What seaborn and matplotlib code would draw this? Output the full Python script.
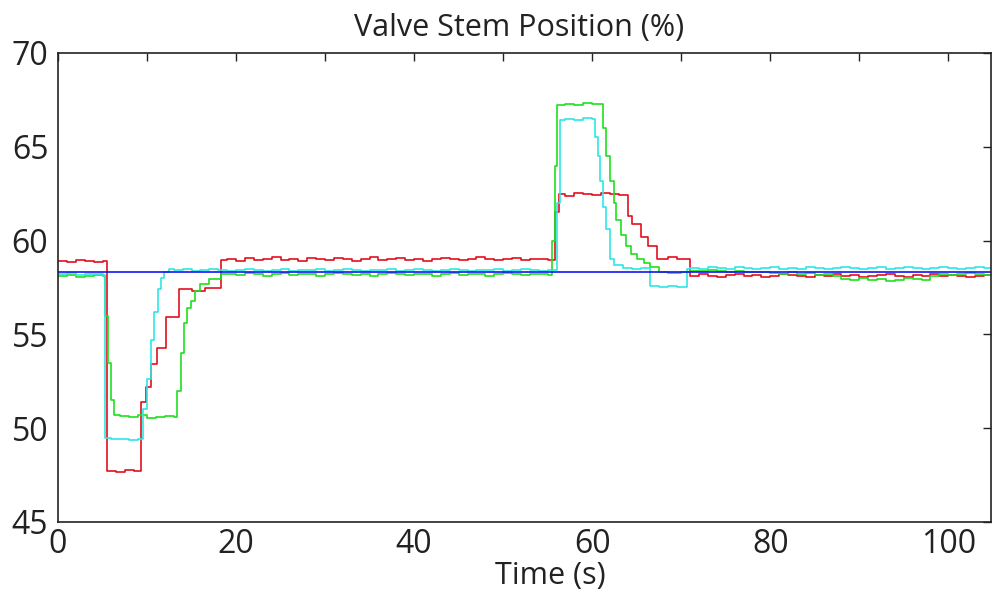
import matplotlib
matplotlib.use("Agg")
import matplotlib.pyplot as plt
import seaborn as sns
import pandas as pd
import numpy as np

# ---------------- data ----------------
red_t = [0, 1, 2, 3, 4, 5, 5.5, 6.5, 7.5, 8.5, 9.3, 9.9, 10.5, 11.1, 12.1, 13.6, 15, 16.5, 18.3,
         19, 20, 21, 22, 23, 24, 25, 26, 27, 28, 29, 30, 31, 32, 33, 34, 35, 36, 37, 38, 39, 40,
         41, 42, 43, 44, 45, 46, 47, 48, 49, 50, 51, 52, 53, 54, 55,
         55.8, 56.3, 57, 58, 59, 60, 61, 62, 63, 64, 64.5, 65.5, 66.3, 67.3, 68.5, 69.5, 71,
         72, 73, 74, 75, 76, 77, 78, 79, 80, 81, 82, 83, 84, 85, 86, 87, 88, 89, 90, 91, 92,
         93, 94, 95, 96, 97, 98, 99, 100, 101, 102, 103, 104, 105, 106]
red_v = [58.9, 58.85, 58.95, 58.9, 58.85, 58.9, 47.7, 47.65, 47.75, 47.7, 51.4, 52.2, 53.4, 54.3, 55.9, 57.4, 57.3, 57.45, 58.95,
         59.0, 58.9, 59.05, 58.95, 59.0, 59.1, 58.95, 59.0, 58.9, 59.05, 59.0, 58.95, 59.05, 59.0, 58.9, 59.0, 59.1, 58.95,
         59.0, 59.05, 58.95, 59.0, 58.9, 59.0, 59.05, 59.0, 58.95, 59.0, 59.1, 59.0, 58.95, 59.0, 59.05, 58.95, 59.0, 59.0, 58.95,
         61.5, 62.5, 62.4, 62.55, 62.5, 62.45, 62.55, 62.5, 62.45, 61.3, 60.9, 60.2, 59.7, 59.0, 59.1, 59.0, 58.1,
         58.2, 58.1, 58.05, 58.15, 58.2, 58.1, 58.15, 58.05, 58.1, 58.2, 58.15, 58.1, 58.05, 58.15, 58.1, 58.2, 58.1,
         58.15, 58.05, 58.1, 58.15, 58.2, 58.1, 58.05, 58.15, 58.1, 58.2, 58.1, 58.15, 58.1, 58.05, 58.1, 58.15, 58.1, 58.1]

green_t = [0, 1, 2, 3, 4, 5, 5.3, 5.6, 5.9, 6.3, 7, 8, 9, 10, 11, 12, 13, 13.4, 13.8, 14.1, 14.5, 14.9,
           15.4, 16, 17, 18.3,
           19, 20, 21, 22, 23, 24, 25, 26, 27, 28, 29, 30, 31, 32, 33, 34, 35, 36, 37, 38, 39, 40,
           41, 42, 43, 44, 45, 46, 47, 48, 49, 50, 51, 52, 53, 54, 55,
           55.5, 55.8, 56.1, 57, 58, 59, 60, 61.2, 61.6, 62, 62.4, 62.7, 63.2, 63.8, 64.4, 65, 65.8,
           66.5, 67.5, 68.5, 70, 71,
           72, 73, 74, 75, 76, 77, 78, 79, 80, 81, 82, 83, 84, 85, 86, 87, 88, 89, 90, 91, 92,
           93, 94, 95, 96, 97, 98, 99, 100, 101, 102, 103, 104, 105, 106]
green_v = [58.1, 58.15, 58.05, 58.1, 58.15, 58.1, 56.0, 53.5, 51.5, 50.7, 50.65, 50.6, 50.7, 50.55, 50.6, 50.65, 50.6,
           52.0, 54.0, 55.6, 56.4, 56.8, 57.3, 57.7, 57.95, 58.2,
           58.2, 58.15, 58.25, 58.2, 58.1, 58.2, 58.25, 58.15, 58.2, 58.2, 58.1, 58.2, 58.25, 58.2, 58.15, 58.2, 58.1,
           58.2, 58.25, 58.2, 58.15, 58.2, 58.2, 58.1, 58.2, 58.25, 58.15, 58.2, 58.2, 58.1, 58.2, 58.25, 58.2, 58.15,
           58.2, 58.2, 58.15,
           60.0, 64.0, 67.2, 67.3, 67.25, 67.35, 67.3, 66.0, 64.5, 63.2, 62.0, 61.1, 60.3, 59.7, 59.3, 59.0, 58.8,
           58.6, 58.3, 58.25, 58.3, 58.4,
           58.4, 58.45, 58.4, 58.35, 58.4, 58.3, 58.35, 58.3, 58.25, 58.2, 58.3, 58.2, 58.25, 58.15, 58.2, 58.1, 57.95,
           57.9, 58.0, 57.9, 57.95, 57.85, 57.9, 58.0, 57.95, 57.9, 58.1, 58.2, 58.15, 58.2, 58.25, 58.2, 58.15, 58.2, 58.2]

cyan_t = [0, 1, 2, 3, 4, 5, 5.3, 6, 7, 8, 9, 9.5, 10, 10.4, 10.8, 11.2, 11.6, 11.9, 12.5,
          13, 14, 15, 16, 17, 18, 19, 20, 21, 22, 23, 24, 25, 26, 27, 28, 29, 30, 31, 32, 33, 34, 35,
          36, 37, 38, 39, 40, 41, 42, 43, 44, 45, 46, 47, 48, 49, 50, 51, 52, 53, 54, 55,
          56.0, 56.4, 57, 58, 59, 60, 60.3, 60.6, 60.9, 61.2, 61.5, 62, 62.5, 63.5, 64.5, 65.5,
          66.5, 67.5, 68.5, 69.5, 70.6,
          71, 72, 73, 74, 75, 76, 77, 78, 79, 80, 81, 82, 83, 84, 85, 86, 87, 88, 89, 90, 91, 92,
          93, 94, 95, 96, 97, 98, 99, 100, 101, 102, 103, 104, 105, 106]
cyan_v = [58.2, 58.25, 58.15, 58.2, 58.2, 58.15, 49.5, 49.4, 49.45, 49.35, 49.4, 51.0, 52.6, 54.7, 56.2, 57.4, 58.0,
          58.3, 58.5,
          58.45, 58.5, 58.4, 58.45, 58.5, 58.45, 58.4, 58.45, 58.5, 58.45, 58.4, 58.45, 58.5, 58.4, 58.45, 58.45, 58.5,
          58.4, 58.45, 58.5, 58.45, 58.4, 58.45, 58.45, 58.5, 58.4, 58.45, 58.5, 58.45, 58.4, 58.45, 58.5, 58.45, 58.4,
          58.45, 58.45, 58.5, 58.4, 58.45, 58.5, 58.45, 58.4, 58.45,
          62.0, 66.4, 66.5, 66.45, 66.55, 66.5, 65.5, 64.5, 63.2, 61.8, 60.6, 59.0, 58.7, 58.55, 58.5, 58.55,
          57.6, 57.55, 57.6, 57.55, 58.5,
          58.55, 58.5, 58.6, 58.55, 58.5, 58.6, 58.55, 58.5, 58.55, 58.6, 58.5, 58.55, 58.5, 58.6, 58.55, 58.5, 58.55,
          58.6, 58.55, 58.5, 58.55, 58.6, 58.5, 58.55, 58.6, 58.55, 58.5, 58.55, 58.6, 58.55, 58.5, 58.55, 58.6, 58.55, 58.55, 58.55]

blue_t = [0, 106]
blue_v = [58.3, 58.3]

series_names = ["red", "green", "cyan", "blue"]
series_colors = {"red": "#e0101c", "green": "#1ee01e", "cyan": "#2ee6e6", "blue": "#1414f0"}

x_ticks = [0, 10, 20, 30, 40, 50, 60, 70, 80, 90, 100]
x_tick_labels = ["0", "", "20", "", "40", "", "60", "", "80", "", "100"]
y_ticks = [45, 50, 55, 60, 65, 70]
y_tick_labels = ["45", "50", "55", "60", "65", "70"]

title_text = "Valve Stem Position (%)"
x_label = "Time (s)"

# ---------------- build table ----------------
frames = []
for name, t, v in [("red", red_t, red_v), ("green", green_t, green_v),
                   ("cyan", cyan_t, cyan_v), ("blue", blue_t, blue_v)]:
    n = min(len(t), len(v))
    frames.append(pd.DataFrame({"t": t[:n], "v": v[:n], "s": name}))
df = pd.concat(frames, ignore_index=True)

sns.set_style("white")
plt.rcParams["font.family"] = ["Open Sans", "DejaVu Sans"]

fig = plt.figure(figsize=(9.93, 5.95), dpi=100)
ax = fig.add_axes([0.0584, 0.1227, 0.9396, 0.7883])

for name in series_names:
    sub = df[df["s"] == name]
    sns.lineplot(data=sub, x="t", y="v", ax=ax, color=series_colors[name],
                 estimator=None, sort=False, drawstyle="steps-post", lw=1.2, legend=False)

ax.set_xlim(0, 104.8)
ax.set_ylim(45, 70)
ax.set_xticks(x_ticks)
ax.set_xticklabels(x_tick_labels)
ax.set_yticks(y_ticks)
ax.set_yticklabels(y_tick_labels)
ax.tick_params(direction="in", length=6, width=1, top=True, right=True,
               labelsize=23, colors="#222222")
ax.tick_params(axis="x", pad=4)
ax.tick_params(axis="y", pad=7)
for sp in ax.spines.values():
    sp.set_visible(True)
    sp.set_color("#222222")
    sp.set_linewidth(1.2)

ax.set_title(title_text, fontsize=22, color="#222222", pad=12, x=0.494)
ax.set_xlabel(x_label, fontsize=22, color="#222222")
ax.xaxis.set_label_coords(0.528, -0.083)
ax.set_ylabel("")

fig.savefig("out.png", dpi=100)
